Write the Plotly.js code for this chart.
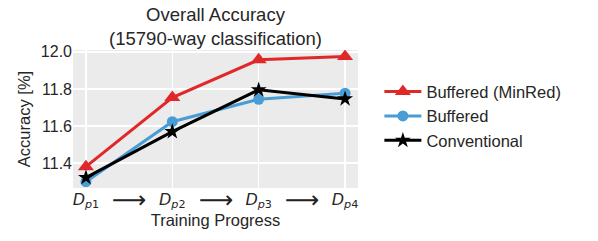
<!DOCTYPE html>
<html>
<head>
<meta charset="utf-8">
<script src="https://cdn.plot.ly/plotly-3.0.1.min.js"></script>
<style>html,body{margin:0;padding:0;background:#fff;}#chart{width:598px;height:241px;}</style>
</head>
<body>
<div id="chart"></div>
<script>
const categories = ['D_p1', 'D_p2', 'D_p3', 'D_p4'];
const tickLabels = ['<i>D</i><sub><i>p</i>1</sub>', '<i>D</i><sub><i>p</i>2</sub>', '<i>D</i><sub><i>p</i>3</sub>', '<i>D</i><sub><i>p</i>4</sub>'];
const minRed = [11.380, 11.753, 11.957, 11.975];
const buffered = [11.299, 11.623, 11.744, 11.777];
const conventional = [11.321, 11.569, 11.795, 11.746];
const yTicks = [11.4, 11.6, 11.8, 12.0];

const xIdx = categories.map((c, i) => i);
const font = 'Liberation Sans, Arial, sans-serif';

const traces = [
  {x: xIdx, y: minRed, name: 'Buffered (MinRed)', mode: 'lines+markers',
   line: {color: '#E0282A', width: 3}, marker: {symbol: 'triangle-up', size: 14, color: '#E0282A'}},
  {x: xIdx, y: buffered, name: 'Buffered', mode: 'lines+markers',
   line: {color: '#4A9CD4', width: 3}, marker: {symbol: 'circle', size: 11, color: '#4A9CD4'}},
  {x: xIdx, y: conventional, name: 'Conventional', mode: 'lines+markers',
   line: {color: '#000000', width: 3}, marker: {symbol: 'star', size: 12, color: '#000000'}}
];

const arrows = xIdx.slice(0, -1).map(i => ({
  x: i + 0.5, xref: 'x', y: -0.09, yref: 'paper', text: '\u27F6', showarrow: false,
  font: {family: 'DejaVu Sans', size: 24, color: '#222'}, yanchor: 'middle'
}));

const layout = {
  width: 598, height: 241,
  margin: {l: 73, r: 240, t: 50, b: 53},
  paper_bgcolor: '#ffffff', plot_bgcolor: '#EBEBEB',
  font: {family: font, color: '#262626'},
  title: {text: 'Overall Accuracy<br>(15790-way classification)', font: {size: 18.5, family: font, color: '#262626'},
          x: 0.5, xref: 'paper', xanchor: 'center', y: 1, yref: 'paper', yanchor: 'bottom', pad: {b: 29}},
  xaxis: {range: [-0.15, 3.15], tickvals: xIdx, ticktext: tickLabels, showgrid: true, gridcolor: '#ffffff', gridwidth: 1.5,
          zeroline: false, showline: false, ticks: '', tickfont: {size: 16, family: 'DejaVu Sans', color: '#262626'},
          title: {text: 'Training Progress', font: {size: 16.5, family: font, color: '#262626'}, standoff: 4}},
  yaxis: {range: [11.265, 12.010], tickvals: yTicks, ticktext: yTicks.map(v => v.toFixed(1)), showgrid: true, gridcolor: '#ffffff', gridwidth: 1.5,
          zeroline: false, showline: false, ticks: '', tickfont: {size: 16, family: font, color: '#262626'},
          title: {text: 'Accuracy [%]', font: {size: 16.5, family: font, color: '#262626'}, standoff: 6}},
  legend: {x: 1.075, xanchor: 'left', y: 0.52, yanchor: 'middle', bgcolor: 'rgba(0,0,0,0)',
           font: {size: 16.5, family: font, color: '#262626'}, itemwidth: 37, tracegroupgap: 0},
  annotations: arrows,
  showlegend: true
};

Plotly.newPlot('chart', traces, layout, {displayModeBar: false, staticPlot: true});
</script>
</body>
</html>
